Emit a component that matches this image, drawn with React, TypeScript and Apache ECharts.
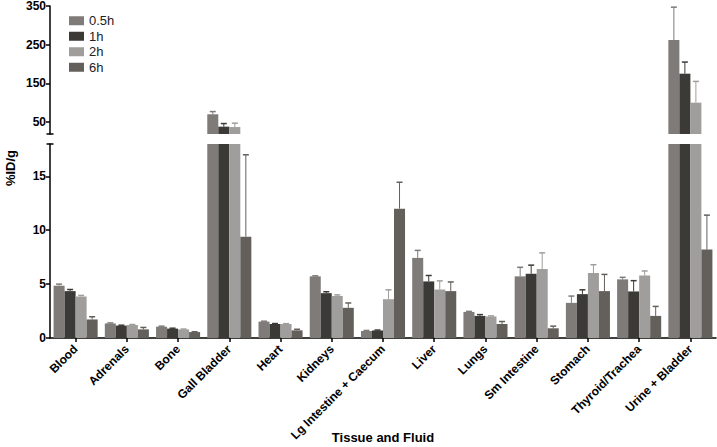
import React, { useEffect, useRef } from "react";
import * as echarts from "echarts";

const categories = [
  "Blood",
  "Adrenals",
  "Bone",
  "Gall Bladder",
  "Heart",
  "Kidneys",
  "Lg Intestine + Caecum",
  "Liver",
  "Lungs",
  "Sm Intestine",
  "Stomach",
  "Thyroid/Trachea",
  "Urine + Bladder",
];

const seriesNames = ["0.5h", "1h", "2h", "6h"];

const values05 = [4.85, 1.35, 1.05, 70, 1.52, 5.72, 0.65, 7.43, 2.42, 5.72, 3.26, 5.44, 262];
const errors05 = [0.15, 0.05, 0.05, 7, 0.04, 0.05, 0.05, 0.7, 0.05, 0.84, 0.63, 0.19, 85];
const values1 = [4.35, 1.15, 0.87, 38, 1.3, 4.16, 0.7, 5.25, 2.05, 5.96, 4.07, 4.32, 175];
const errors1 = [0.15, 0.04, 0.04, 8, 0.04, 0.13, 0.04, 0.55, 0.12, 0.8, 0.4, 1.0, 30];
const values2 = [3.85, 1.2, 0.8, 37, 1.3, 3.9, 3.6, 4.5, 2.0, 6.4, 6.03, 5.8, 100];
const errors2 = [0.1, 0.05, 0.03, 10, 0.03, 0.1, 0.87, 0.8, 0.05, 1.5, 0.77, 0.42, 55];
const values6 = [1.72, 0.8, 0.55, 9.4, 0.71, 2.8, 12.0, 4.35, 1.3, 0.9, 4.35, 2.05, 8.2];
const errors6 = [0.25, 0.18, 0.03, 7.6, 0.1, 0.45, 2.45, 0.85, 0.23, 0.2, 1.55, 0.88, 3.2];

const lowerTicks = [0, 5, 10, 15];
const upperTicks = [50, 150, 250, 350];

const allValues = [values05, values1, values2, values6];
const allErrors = [errors05, errors1, errors2, errors6];
const colors = ["#7e7b78", "#3c3a37", "#a09e9c", "#63605c"];

const LOWER_MAX = 18;
const UPPER_MIN = 19;
const UPPER_MAX = 350;
const CAT_GAP = 0.14;

const font = "'Liberation Sans', Arial, sans-serif";

function App() {
  const ref = useRef<HTMLDivElement>(null);

  useEffect(() => {
    if (!ref.current) return;
    const chart = echarts.init(ref.current, null, { renderer: "svg" });

    const series: any[] = [];
    allValues.forEach((vals, s) => {
      series.push({
        name: seriesNames[s],
        type: "bar",
        xAxisIndex: 0,
        yAxisIndex: 0,
        data: vals,
        barGap: "0%",
        barCategoryGap: CAT_GAP * 100 + "%",
        itemStyle: { color: colors[s] },
        clip: true,
      });
    });
    allValues.forEach((vals, s) => {
      series.push({
        name: seriesNames[s],
        type: "bar",
        xAxisIndex: 1,
        yAxisIndex: 1,
        data: vals.map((v) => (v >= UPPER_MIN ? v : "-")),
        barGap: "0%",
        barCategoryGap: CAT_GAP * 100 + "%",
        itemStyle: { color: colors[s] },
        clip: true,
      });
    });

    const makeErr = (s: number, upper: boolean) => {
      const vals = allValues[s];
      const errs = allErrors[s];
      const data: any[] = [];
      vals.forEach((v, i) => {
        const inRange = upper ? v >= UPPER_MIN : v < LOWER_MAX;
        if (inRange) data.push([i, v, v + errs[i]]);
      });
      return {
        name: "err" + s + (upper ? "u" : "l"),
        type: "custom",
        xAxisIndex: upper ? 1 : 0,
        yAxisIndex: upper ? 1 : 0,
        z: 5,
        data,
        encode: { x: 0, y: [1, 2] },
        renderItem: (params: any, api: any) => {
          const c = api.value(0);
          const v = api.value(1);
          const t = api.value(2);
          const b = api.coord([c, v]);
          const tp = api.coord([c, t]);
          const cw = api.size([1, 0])[0];
          const bw = (cw * (1 - CAT_GAP)) / 4;
          const x = b[0] + (s - 1.5) * bw;
          return {
            type: "group",
            children: [
              {
                type: "line",
                shape: { x1: x, y1: b[1], x2: x, y2: tp[1] },
                style: { stroke: colors[s], lineWidth: 1 },
              },
              {
                type: "line",
                shape: { x1: x - 3, y1: tp[1], x2: x + 3, y2: tp[1] },
                style: { stroke: colors[s], lineWidth: 1.5 },
              },
            ],
          };
        },
      };
    };
    for (let s = 0; s < 4; s++) {
      series.push(makeErr(s, false));
      series.push(makeErr(s, true));
    }

    const yAxisCommon = {
      type: "value",
      splitLine: { show: false },
      axisLine: { show: true, lineStyle: { color: "#000", width: 1.5 } },
      axisTick: { show: true, length: 4, lineStyle: { color: "#000", width: 1.5 } },
      axisLabel: {
        color: "#000",
        fontWeight: "bold",
        fontSize: 12,
        fontFamily: font,
        margin: 4,
      },
    };

    chart.setOption({
      animation: false,
      grid: [
        { left: 50, right: 1, top: 144, height: 194 },
        { left: 50, right: 1, top: 5, height: 129 },
      ],
      legend: {
        data: seriesNames,
        orient: "vertical",
        left: 64,
        top: 8,
        icon: "rect",
        itemWidth: 15,
        itemHeight: 9,
        itemGap: 0,
        textStyle: {
          fontSize: 13,
          color: "#222",
          fontFamily: font,
          lineHeight: 15.5,
        },
      },
      xAxis: [
        {
          type: "category",
          gridIndex: 0,
          data: categories,
          axisLine: { show: true, lineStyle: { color: "#000", width: 1.5 } },
          axisTick: {
            show: true,
            alignWithLabel: true,
            length: 4,
            lineStyle: { color: "#000", width: 1.5 },
          },
          axisLabel: {
            interval: 0,
            rotate: 45,
            color: "#000",
            fontWeight: "bold",
            fontSize: 12,
            fontFamily: font,
            margin: 9,
          },
        },
        {
          type: "category",
          gridIndex: 1,
          data: categories,
          show: false,
        },
      ],
      yAxis: [
        {
          ...yAxisCommon,
          gridIndex: 0,
          min: 0,
          max: LOWER_MAX,
          axisLabel: { ...yAxisCommon.axisLabel, customValues: lowerTicks },
          axisTick: { ...yAxisCommon.axisTick, customValues: lowerTicks },
        },
        {
          ...yAxisCommon,
          gridIndex: 1,
          min: UPPER_MIN,
          max: UPPER_MAX,
          axisLabel: { ...yAxisCommon.axisLabel, customValues: upperTicks },
          axisTick: { ...yAxisCommon.axisTick, customValues: upperTicks },
        },
      ],
      graphic: [
        {
          type: "line",
          shape: { x1: 46.5, y1: 134, x2: 53.5, y2: 134 },
          style: { stroke: "#000", lineWidth: 1.5 },
        },
        {
          type: "line",
          shape: { x1: 46.5, y1: 144, x2: 53.5, y2: 144 },
          style: { stroke: "#000", lineWidth: 1.5 },
        },
        {
          type: "text",
          x: 10,
          y: 168,
          rotation: Math.PI / 2,
          style: {
            text: "%ID/g",
            fontSize: 13,
            fontWeight: "bold",
            fontFamily: font,
            fill: "#000",
            align: "center",
            verticalAlign: "middle",
          },
        },
        {
          type: "text",
          x: 383,
          y: 437,
          style: {
            text: "Tissue and Fluid",
            fontSize: 13,
            fontWeight: "bold",
            fontFamily: font,
            fill: "#000",
            align: "center",
            verticalAlign: "middle",
          },
        },
      ],
      series,
    });

    return () => chart.dispose();
  }, []);

  return (
    <div
      ref={ref}
      style={{ position: "absolute", left: 0, top: 0, width: 717, height: 447 }}
    />
  );
}

export default App;
